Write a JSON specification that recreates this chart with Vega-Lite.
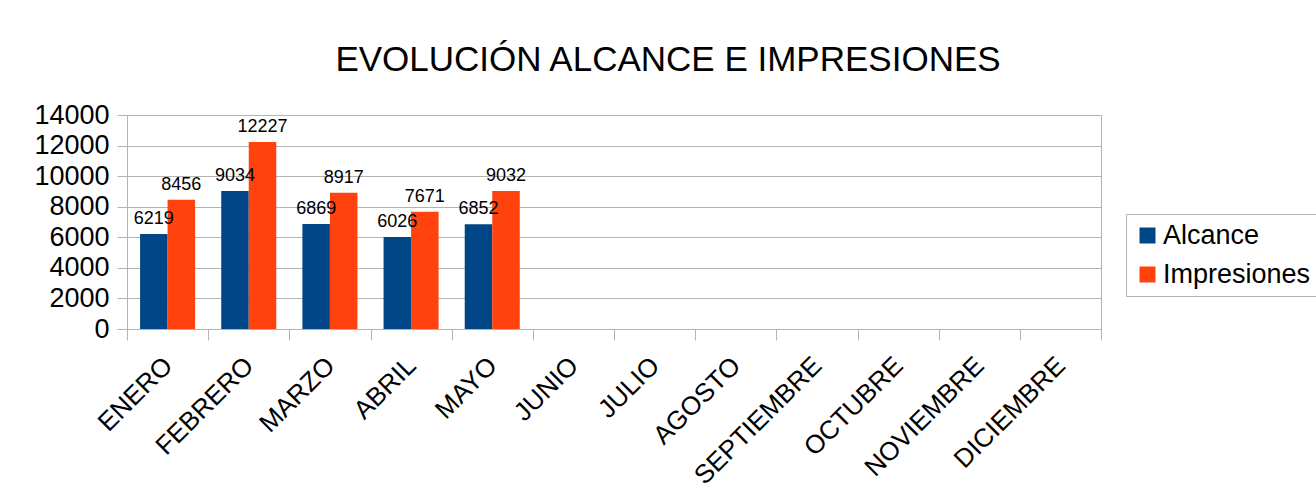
{
  "$schema": "https://vega.github.io/schema/vega-lite/v6.json",
  "width": 974,
  "height": 214,
  "autosize": {"type": "none"},
  "padding": {"left": 127, "top": 115, "right": 215, "bottom": 171},
  "background": "white",
  "config": {
    "font": "Liberation Sans",
    "view": {"stroke": "#b3b3b3", "strokeWidth": 1}
  },
  "title": {
    "text": "EVOLUCIÓN ALCANCE E IMPRESIONES",
    "fontSize": 35,
    "fontWeight": "normal",
    "font": "Liberation Sans",
    "color": "black",
    "anchor": "middle",
    "frame": "group",
    "dx": 54,
    "offset": 23
  },
  "data": {
    "values": [
      {"mes": "ENERO", "serie": "Alcance", "valor": 6219},
      {"mes": "ENERO", "serie": "Impresiones", "valor": 8456},
      {"mes": "FEBRERO", "serie": "Alcance", "valor": 9034},
      {"mes": "FEBRERO", "serie": "Impresiones", "valor": 12227},
      {"mes": "MARZO", "serie": "Alcance", "valor": 6869},
      {"mes": "MARZO", "serie": "Impresiones", "valor": 8917},
      {"mes": "ABRIL", "serie": "Alcance", "valor": 6026},
      {"mes": "ABRIL", "serie": "Impresiones", "valor": 7671},
      {"mes": "MAYO", "serie": "Alcance", "valor": 6852},
      {"mes": "MAYO", "serie": "Impresiones", "valor": 9032}
    ]
  },
  "encoding": {
    "x": {
      "field": "mes",
      "type": "nominal",
      "sort": null,
      "title": null,
      "scale": {
        "domain": ["ENERO","FEBRERO","MARZO","ABRIL","MAYO","JUNIO","JULIO","AGOSTO","SEPTIEMBRE","OCTUBRE","NOVIEMBRE","DICIEMBRE"],
        "paddingInner": 0,
        "paddingOuter": 0
      },
      "axis": {
        "labelAngle": -45,
        "labelAlign": "right",
        "labelBaseline": "top",
        "labelFontSize": 26,
        "labelColor": "black",
        "labelPadding": 12,
        "labelOffset": -9,
        "tickBand": "extent",
        "tickSize": 11,
        "tickColor": "#b3b3b3",
        "domainColor": "#b3b3b3",
        "grid": false
      }
    },
    "xOffset": {"field": "serie", "type": "nominal", "scale": {"paddingInner": 0, "paddingOuter": 0.475}},
    "y": {
      "field": "valor",
      "type": "quantitative",
      "title": null,
      "scale": {"domain": [0, 14000], "nice": false},
      "axis": {
        "values": [0,2000,4000,6000,8000,10000,12000,14000],
        "format": "d",
        "labelFontSize": 27,
        "labelColor": "black",
        "labelPadding": 8,
        "tickSize": 10,
        "tickColor": "#b3b3b3",
        "domainColor": "#b3b3b3",
        "gridColor": "#b3b3b3",
        "grid": true
      }
    }
  },
  "layer": [
    {
      "mark": {"type": "bar"},
      "encoding": {
        "color": {
          "field": "serie",
          "type": "nominal",
          "title": null,
          "scale": {"domain": ["Alcance", "Impresiones"], "range": ["#004586", "#ff420e"]},
          "legend": {
            "orient": "none",
            "legendX": 999,
            "legendY": 99,
            "symbolType": "square",
            "symbolSize": 256,
            "symbolStrokeWidth": 0,
            "labelFontSize": 27,
            "labelColor": "black",
            "strokeColor": "#b3b3b3",
            "padding": 8,
            "rowPadding": 11,
            "labelOffset": 2
          }
        }
      }
    },
    {
      "mark": {"type": "text", "fontSize": 18, "color": "black", "baseline": "bottom", "dy": -6},
      "encoding": {
        "text": {"field": "valor", "type": "quantitative", "format": "d"}
      }
    }
  ]
}
